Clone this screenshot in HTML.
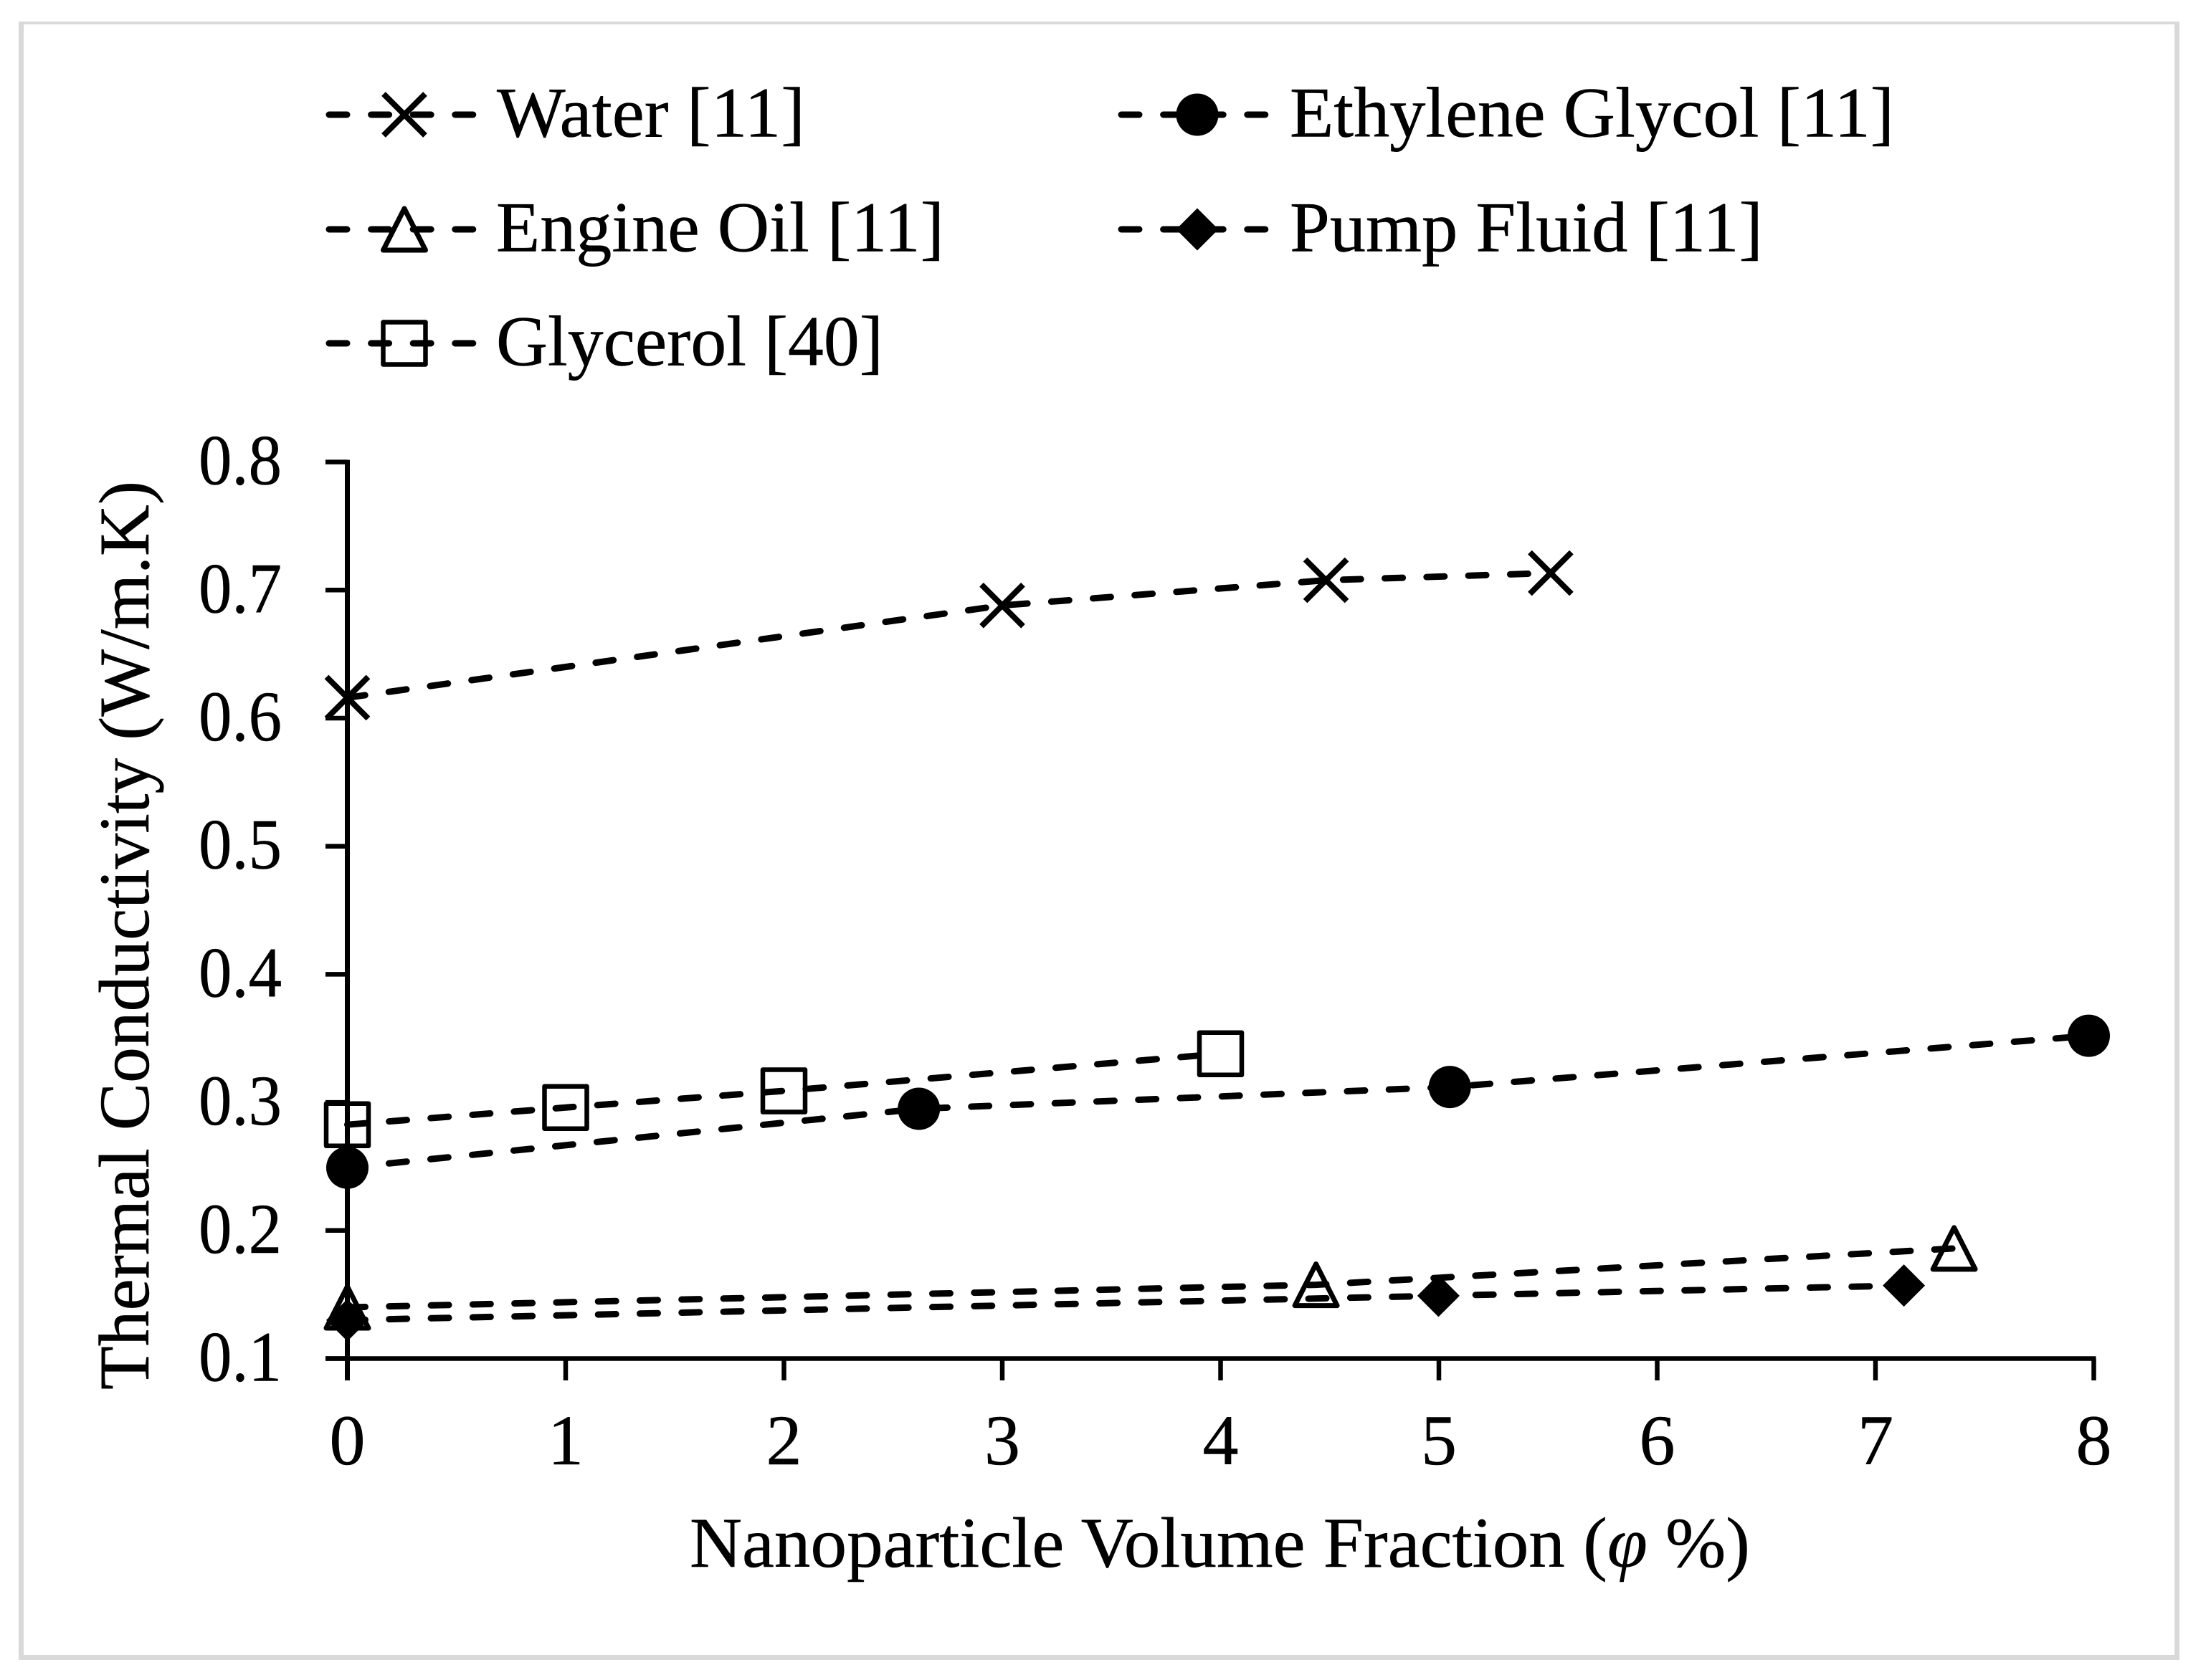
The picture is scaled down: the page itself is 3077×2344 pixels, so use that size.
<!DOCTYPE html>
<html>
<head>
<meta charset="utf-8">
<title>Thermal Conductivity vs Nanoparticle Volume Fraction</title>
<style>
html,body{margin:0;padding:0;background:#fff;width:3077px;height:2344px;overflow:hidden}
svg{display:block}
text{font-family:"Liberation Serif",serif;fill:#000;font-size:100px;stroke:#000;stroke-width:0.5px}
</style>
</head>
<body>
<svg id="chart" width="3077" height="2344" viewBox="0 0 3077 2344" xmlns="http://www.w3.org/2000/svg">
<g fill="#d9d9d9">
<rect x="26" y="30" width="7" height="2286"/>
<rect x="3033" y="30" width="7" height="2286"/>
<rect x="26" y="30" width="3014" height="4"/>
<rect x="26" y="2309" width="3014" height="7"/>
</g>
<g id="axes"></g>
<g id="series"></g>
<g id="legend"></g>
<text x="962" y="2186" textLength="1479" lengthAdjust="spacingAndGlyphs">Nanoparticle Volume Fraction (<tspan font-style="italic">φ</tspan> %)</text>
<text transform="translate(207,1939) rotate(-90)" x="0" y="0" textLength="1268" lengthAdjust="spacingAndGlyphs">Thermal Conductivity (W/m.K)</text>
</svg>
<script>
var xTicks = [0, 1, 2, 3, 4, 5, 6, 7, 8];
var yTicks = [0.1, 0.2, 0.3, 0.4, 0.5, 0.6, 0.7, 0.8];
var yTickLabels = ['0.1', '0.2', '0.3', '0.4', '0.5', '0.6', '0.7', '0.8'];
var seriesNames = ['Water [11]', 'Ethylene Glycol [11]', 'Engine Oil [11]', 'Pump Fluid [11]', 'Glycerol [40]'];
var waterX = [0, 3.0, 4.483, 5.512];
var waterY = [0.616, 0.688, 0.7077, 0.7133];
var glycolX = [0, 2.618, 5.05, 7.977];
var glycolY = [0.249, 0.295, 0.312, 0.352];
var engineX = [0, 4.437, 7.36];
var engineY = [0.14, 0.1576, 0.186];
var pumpX = [0, 4.998, 7.13];
var pumpY = [0.13, 0.149, 0.157];
var glycerolX = [0, 1.0, 2.0, 4.0];
var glycerolY = [0.2826, 0.296, 0.309, 0.338];

var NS = 'http://www.w3.org/2000/svg';
function sx(v){ return 484.5 + v * 304.5; }
function sy(v){ return 1895.5 - (v - 0.1) * 1787; }
function mk(tag, attrs, parent){
  var e = document.createElementNS(NS, tag);
  for (var k in attrs) e.setAttribute(k, attrs[k]);
  parent.appendChild(e);
  return e;
}
var axes = document.getElementById('axes');
var seriesG = document.getElementById('series');
var legend = document.getElementById('legend');

var yAxisLine = mk('line', {x1:sx(0), y1:sy(0.8)-3, x2:sx(0), y2:1926, stroke:'#000','stroke-width':7}, axes);


var xAxisLine = mk('line', {x1:454, y1:sy(0.1), x2:sx(8)+3, y2:sy(0.1), stroke:'#000','stroke-width':6.5}, axes);



yTicks.forEach(function(v, i){
  var t = mk('line', {x1:454, y1:sy(v), x2:sx(0), y2:sy(v), stroke:'#000','stroke-width':6.5}, axes);
  
  
  var l = mk('text', {x:277, y:sy(v)+31, textLength:116, lengthAdjust:'spacingAndGlyphs'}, axes);
  l.textContent = yTickLabels[i];
  
  
});
xTicks.forEach(function(v){
  var t = mk('line', {x1:sx(v), y1:sy(0.1), x2:sx(v), y2:1926, stroke:'#000','stroke-width':6.5}, axes);
  
  
  var l = mk('text', {x:sx(v), y:2043, 'text-anchor':'middle'}, axes);
  l.textContent = String(v);
  
  
});

function marker(kind, cx, cy, parent){
  var m;
  if (kind === 'x') {
    m = mk('path', {d:'M'+(cx-29)+' '+(cy-29)+'L'+(cx+29)+' '+(cy+29)+'M'+(cx+29)+' '+(cy-29)+'L'+(cx-29)+' '+(cy+29), stroke:'#000','stroke-width':8, fill:'none'}, parent);
  } else if (kind === 'circle') {
    m = mk('circle', {cx:cx, cy:cy, r:29.5, fill:'#000'}, parent);
  } else if (kind === 'triangle') {
    m = mk('path', {d:'M'+cx+' '+(cy-29)+'L'+(cx+29.5)+' '+(cy+29)+'L'+(cx-29.5)+' '+(cy+29)+'Z', stroke:'#000','stroke-width':7,'stroke-linejoin':'round', fill:'none'}, parent);
  } else if (kind === 'diamond') {
    m = mk('path', {d:'M'+cx+' '+(cy-29.5)+'L'+(cx+29.5)+' '+cy+'L'+cx+' '+(cy+29.5)+'L'+(cx-29.5)+' '+cy+'Z', fill:'#000'}, parent);
  } else {
    m = mk('rect', {x:cx-29.5, y:cy-29.5, width:59, height:59, stroke:'#000','stroke-width':6.5,'stroke-linejoin':'round', fill:'none'}, parent);
  }
  return m;
}

function drawSeries(key, kind, xs, ys){
  var g = mk('g', {}, seriesG);
  
  
  var pts = xs.map(function(x, i){ return sx(x) + ',' + sy(ys[i]); }).join(' ');
  var line = mk('polyline', {points:pts, fill:'none', stroke:'#000', 'stroke-width':9, 'stroke-dasharray':'25 33.3', 'stroke-linecap':'round'}, g);
  
  
  xs.forEach(function(x, i){
    var m = marker(kind, sx(x), sy(ys[i]), g);
    
    
  });
}
drawSeries('water', 'x', waterX, waterY);
drawSeries('ethylene-glycol', 'circle', glycolX, glycolY);
drawSeries('engine-oil', 'triangle', engineX, engineY);
drawSeries('pump-fluid', 'diamond', pumpX, pumpY);
drawSeries('glycerol', 'square', glycerolX, glycerolY);

var legendWidths = [430, 843, 625, 660, 540];
var legendKinds = ['x', 'circle', 'triangle', 'diamond', 'square'];
var legendRowY = [160, 160, 320, 320, 479];
var legendLineStart = [459, 1564, 459, 1564, 459];
var legendMarkerX = [564, 1670, 564, 1670, 564];
var legendTextX = [693, 1799, 692, 1799, 692];
seriesNames.forEach(function(name, i){
  var g = mk('g', {}, legend);
  
  
  var y = legendRowY[i];
  var ln = mk('line', {x1:legendLineStart[i], y1:y, x2:legendLineStart[i]+201, y2:y, stroke:'#000','stroke-width':9,'stroke-dasharray':'25 33.6','stroke-linecap':'round'}, g);
  
  
  var m = marker(legendKinds[i], legendMarkerX[i], y, g);
  
  
  var t = mk('text', {x:legendTextX[i], y:y+30.5, textLength:legendWidths[i], lengthAdjust:'spacingAndGlyphs'}, g);
  t.textContent = name;
  
  
});
</script>
</body>
</html>
